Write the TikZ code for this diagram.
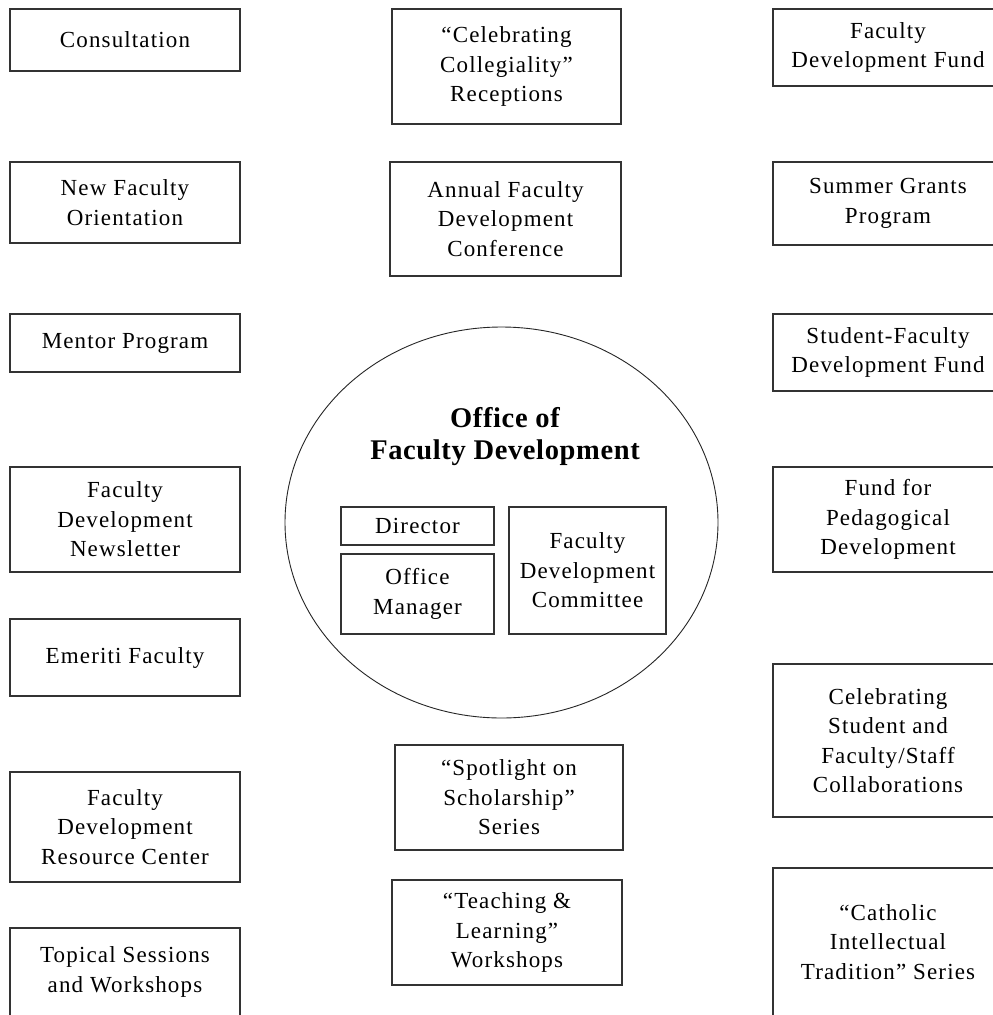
\documentclass[tikz,border=0pt]{standalone}
\usepackage{fontspec}
\setmainfont{Liberation Serif}[LetterSpace=5]
\usetikzlibrary{positioning,%
  shapes.geometric%
}

\tikzset{
  prog/.style={draw=black!80, line width=1.2pt, align=center, inner sep=0pt,
    font=\fontsize{23}{29.5}\selectfont},
  inner/.style={prog, line width=1.4pt},
  office/.style={draw=black!85, line width=0.9pt, ellipse, inner sep=0pt}
}

\begin{document}
\begin{tikzpicture}[x=1pt, y=-1pt]
            % Rahmen
            \clip (0,0) rectangle (993,1015);
            \fill[white] (0,0) rectangle (993,1015);

            % linke Spalte
            \node[prog, minimum width=230pt, minimum height=62pt] (cons) at (125,40) {Consultation};
            \node[prog, minimum width=230pt, minimum height=81pt] (orient) at (125,202.5) {New Faculty\\Orientation};
            \node[prog, minimum width=230pt, minimum height=58pt] (mentor) at (125,343) {Mentor Program};
            \node[prog, minimum width=230pt, minimum height=105pt] (news) at (125,519.5) {Faculty\\Development\\Newsletter};
            \node[prog, minimum width=230pt, minimum height=77pt] (emer) at (125,657.5) {Emeriti Faculty};
            \node[prog, minimum width=230pt, minimum height=110pt] (res) at (125,827) {Faculty\\Development\\Resource Center};
            \node[prog, minimum width=230pt, minimum height=88pt] (topic) at (125,972) {Topical Sessions\\and Workshops};

            % mittlere Spalte
            \node[prog, minimum width=229pt, minimum height=115pt] (recep) at (506.5,66.5) {“Celebrating\\Collegiality”\\Receptions};
            \node[prog, minimum width=231pt, minimum height=114pt] (conf) at (505.5,219) {Annual Faculty\\Development\\Conference};
            \node[prog, minimum width=228pt, minimum height=105pt] (spot) at (509,797.5) {“Spotlight on\\Scholarship”\\Series};
            \node[prog, minimum width=230pt, minimum height=105pt] (teach) at (507,932.5) {“Teaching \&\\Learning”\\Workshops};

            % rechte Spalte
            \node[prog, minimum width=230pt, minimum height=77pt] (fund) at (888,47.5) {Faculty\\Development Fund};
            \node[prog, minimum width=230pt, minimum height=83pt] (summer) at (888,203.5) {Summer Grants\\Program};
            \node[prog, minimum width=230pt, minimum height=77pt] (stufac) at (888,352.5) {Student-Faculty\\Development Fund};
            \node[prog, minimum width=230pt, minimum height=105pt] (peda) at (888,519.5) {Fund for\\Pedagogical\\Development};
            \node[prog, minimum width=230pt, minimum height=153pt] (collab) at (888,740.5) {Celebrating\\Student and\\Faculty/Staff\\Collaborations};
            \node[prog, minimum width=230pt, minimum height=148pt] (cath) at (888,942) {“Catholic\\Intellectual\\Tradition” Series};

            % Buero
            \node[office, minimum width=433pt, minimum height=391pt] (ofd) at (501.5,522.5) {};
            \node[align=center, font=\fontsize{28.5}{32}\selectfont\bfseries\addfontfeature{LetterSpace=2.2}] (title) at (505,437) {Office of\\Faculty Development};
            \node[inner, minimum width=153pt, minimum height=38pt] (dir) at (417.5,526) {Director};
            \node[inner, minimum width=153pt, minimum height=80pt] (mgr) at (417.5,594) {Office\\Manager};
            \node[inner, minimum width=157pt, minimum height=127pt] (comm) at (587.5,570.5) {Faculty\\Development\\Committee};
\end{tikzpicture}
\end{document}
